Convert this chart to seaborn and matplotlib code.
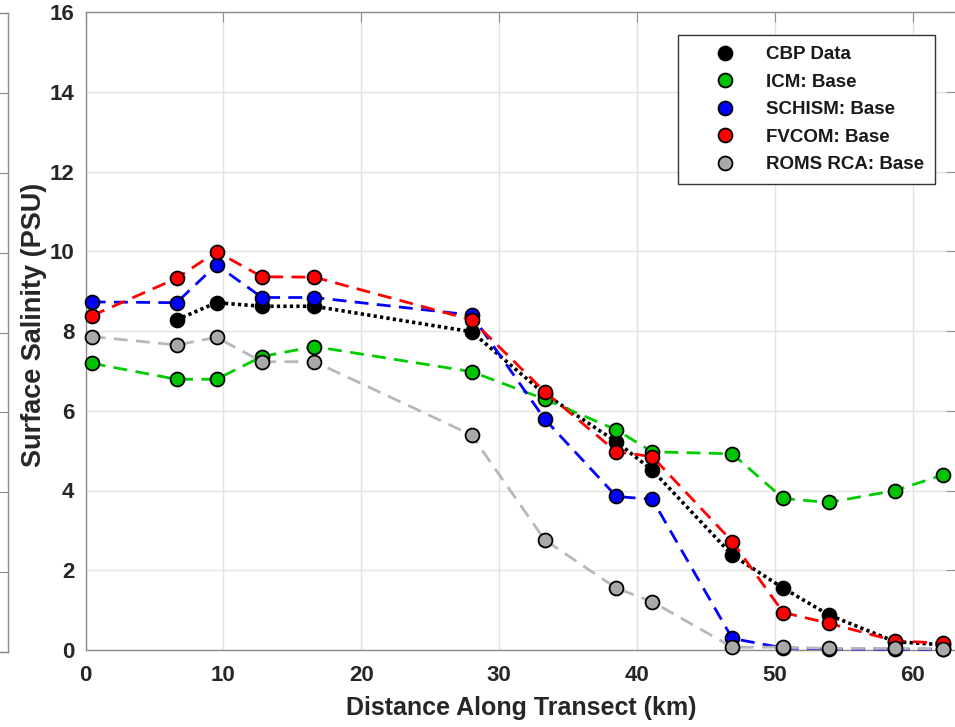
import matplotlib
matplotlib.use("Agg")
import matplotlib.pyplot as plt
from matplotlib.lines import Line2D
import seaborn as sns
import pandas as pd

# ---------------- data ----------------
distance_km = [0.45, 6.6, 9.5, 12.8, 16.6, 28.0, 33.3, 38.5, 41.1, 46.9, 50.6, 53.9, 58.7, 62.2]
cbp_distance_km = [6.6, 9.5, 12.8, 16.6, 28.0, 33.3, 38.5, 41.1, 46.9, 50.6, 53.9, 58.7, 62.2]

cbp_data = [8.28, 8.71, 8.62, 8.62, 7.98, 6.42, 5.22, 4.51, 2.38, 1.55, 0.88, 0.21, 0.13]
icm_base = [7.19, 6.79, 6.79, 7.36, 7.61, 6.98, 6.29, 5.52, 4.97, 4.92, 3.80, 3.70, 4.00, 4.39]
schism_base = [8.73, 8.71, 9.66, 8.84, 8.84, 8.40, 5.79, 3.85, 3.78, 0.29, 0.05, 0.03, 0.02, 0.02]
fvcom_base = [8.38, 9.32, 9.99, 9.36, 9.35, 8.28, 6.48, 4.97, 4.85, 2.72, 0.94, 0.67, 0.23, 0.17]
roms_base = [7.86, 7.65, 7.84, 7.23, 7.23, 5.39, 2.76, 1.55, 1.21, 0.07, 0.07, 0.04, 0.04, 0.03]

series_names = ["CBP Data", "ICM: Base", "SCHISM: Base", "FVCOM: Base", "ROMS RCA: Base"]
x_ticks = [0, 10, 20, 30, 40, 50, 60]
y_ticks = [0, 2, 4, 6, 8, 10, 12, 14, 16]

# ---------------- style ----------------
sns.set_style("white")
plt.rcParams["font.family"] = ["Liberation Sans", "DejaVu Sans"]
plt.rcParams["font.weight"] = "bold"

W, H = 955, 727
fig = plt.figure(figsize=(W / 100, H / 100), dpi=100)

spine_col = "#8c8c8c"
text_col = "#262626"

# fragment of the neighbouring panel at the left edge
axl = fig.add_axes([-0.3, (H - 652) / H, 0.3 + 8 / W, (652 - 13) / H])
axl.set_xlim(0, 1)
axl.set_ylim(0, 16)
axl.set_yticks(y_ticks)
axl.yaxis.tick_right()
axl.tick_params(axis="y", direction="in", length=7, color=spine_col, labelright=False)
axl.set_xticks([])
for s in axl.spines.values():
    s.set_color(spine_col)
    s.set_linewidth(1.0)

# main axes
left_px, right_px, top_px, bot_px = 85.5, 956, 12, 650
ax = fig.add_axes([left_px / W, (H - bot_px) / H, (right_px - left_px) / W, (bot_px - top_px) / H])

series = [
    (series_names[0], cbp_distance_km, cbp_data, "black", "black", (0, (0.9, 0.9)), 2.6),
    (series_names[1], distance_km, icm_base, "#00cc00", "#00c400", (0, (5, 3)), 2.0),
    (series_names[2], distance_km, schism_base, "#0000ff", "#0000ff", (0, (5, 3)), 2.0),
    (series_names[3], distance_km, fvcom_base, "#ff0000", "#ff0000", (0, (5, 3)), 2.0),
    (series_names[4], distance_km, roms_base, "#b8b8b8", "#a9a9a9", (0, (5, 3)), 2.0),
]

handles = []
for i, (name, xs, ys, lc, fc, ls, lw) in enumerate(series):
    df = pd.DataFrame({"x": xs, "y": ys})
    sns.lineplot(data=df, x="x", y="y", ax=ax, color=lc, linestyle=ls, linewidth=lw,
                 marker="o", markersize=10, markerfacecolor=fc, markeredgecolor="black",
                 markeredgewidth=1.3, clip_on=False, legend=False, zorder=3 + i)
    handles.append(Line2D([], [], linestyle="none", marker="o", markersize=10,
                          markerfacecolor=fc, markeredgecolor="black", markeredgewidth=1.3,
                          label=name))

ax.set_xlim(0, (right_px - left_px) / 13.79)
ax.set_ylim(0, 16)
ax.set_xticks(x_ticks)
ax.set_yticks(y_ticks)
ax.grid(True, color="#e3e3e3", linewidth=1.0)
ax.set_axisbelow(True)
ax.tick_params(axis="both", which="both", direction="in", length=7, color=spine_col,
               labelsize=16, labelcolor=text_col, top=True, right=True)
ax.tick_params(axis="y", pad=8)
ax.tick_params(axis="x", pad=11)
for lab in ax.get_xticklabels() + ax.get_yticklabels():
    lab.set_fontweight("bold")
for s in ax.spines.values():
    s.set_color(spine_col)
    s.set_linewidth(1.0)

ax.set_xlabel("Distance Along Transect (km)", fontsize=18, fontweight="bold", color=text_col)
ax.set_ylabel("Surface Salinity (PSU)", fontsize=19.5, fontweight="bold", color=text_col)
ax.xaxis.set_label_coords(0.5 * (left_px + right_px) / W, 1 - 696 / H, transform=fig.transFigure)
ax.yaxis.set_label_coords(47 / W, 1 - 325 / H, transform=fig.transFigure)

leg = ax.legend(handles=handles, loc="upper right",
                bbox_to_anchor=(935 / W, 1 - 35 / H), bbox_transform=fig.transFigure,
                fontsize=13.5, frameon=True, fancybox=False, framealpha=1,
                borderpad=0.6, handlelength=3.9, handletextpad=0.2, labelspacing=0.55,
                borderaxespad=0)
leg.get_frame().set_edgecolor("#333333")
leg.get_frame().set_linewidth(1.0)
for t in leg.get_texts():
    t.set_fontweight("bold")
    t.set_color("#1a1a1a")

fig.savefig("out.png", dpi=100)
